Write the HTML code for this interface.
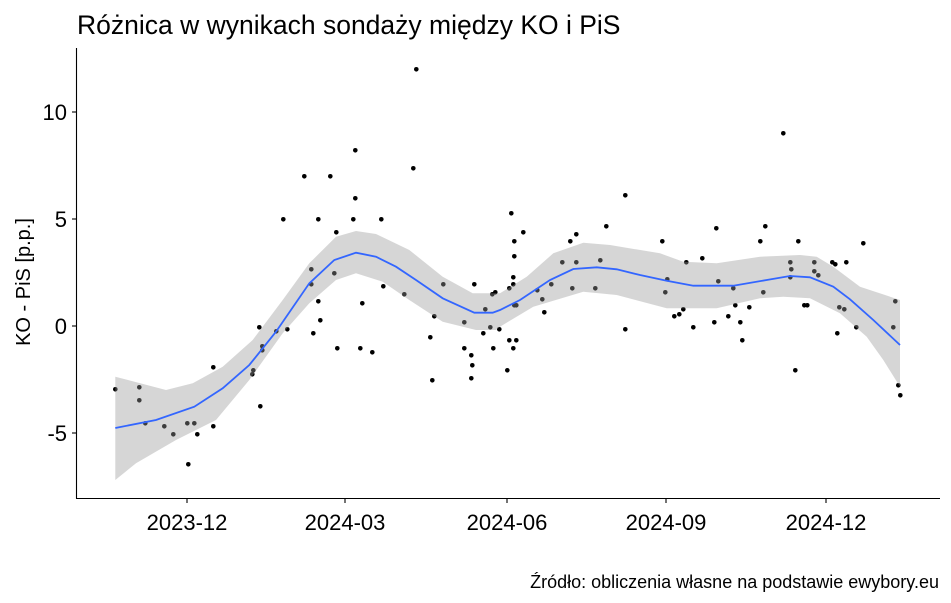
<!DOCTYPE html>
<html><head><meta charset="utf-8"><style>
body{margin:0;background:#fff}
svg{display:block;font-family:"Liberation Sans",Arial,sans-serif}
</style></head><body>
<svg width="951" height="603" viewBox="0 0 951 603" xmlns="http://www.w3.org/2000/svg">
<rect width="951" height="603" fill="#fff"/>
<text x="77" y="34" font-size="26.5" fill="#000">Różnica w wynikach sondaży między KO i PiS</text>
<g fill="#000">
<circle cx="115.3" cy="389.3" r="2.3"/><circle cx="139.3" cy="387.3" r="2.3"/><circle cx="139.3" cy="400.3" r="2.3"/><circle cx="145.3" cy="423.3" r="2.3"/><circle cx="164.3" cy="426.3" r="2.3"/><circle cx="173.3" cy="434.3" r="2.3"/><circle cx="187.3" cy="423.3" r="2.3"/><circle cx="194.3" cy="423.3" r="2.3"/><circle cx="188.3" cy="464.3" r="2.3"/><circle cx="197.3" cy="434.3" r="2.3"/><circle cx="213.3" cy="367.3" r="2.3"/><circle cx="213.3" cy="426.3" r="2.3"/><circle cx="252.3" cy="374.3" r="2.3"/><circle cx="253.3" cy="370.3" r="2.3"/><circle cx="260.3" cy="406.3" r="2.3"/><circle cx="259.3" cy="327.3" r="2.3"/><circle cx="262.3" cy="346.3" r="2.3"/><circle cx="262.3" cy="350.3" r="2.3"/><circle cx="276.3" cy="331.3" r="2.3"/><circle cx="287.3" cy="329.3" r="2.3"/><circle cx="283.3" cy="219.3" r="2.3"/><circle cx="304.3" cy="176.3" r="2.3"/><circle cx="311.3" cy="269.3" r="2.3"/><circle cx="311.3" cy="284.3" r="2.3"/><circle cx="313.3" cy="333.3" r="2.3"/><circle cx="318.3" cy="301.3" r="2.3"/><circle cx="320.3" cy="320.3" r="2.3"/><circle cx="318.3" cy="219.3" r="2.3"/><circle cx="330.3" cy="176.3" r="2.3"/><circle cx="334.3" cy="273.3" r="2.3"/><circle cx="336.3" cy="232.3" r="2.3"/><circle cx="337.3" cy="348.3" r="2.3"/><circle cx="353.3" cy="219.3" r="2.3"/><circle cx="355.3" cy="198.3" r="2.3"/><circle cx="355.3" cy="150.3" r="2.3"/><circle cx="360.3" cy="348.3" r="2.3"/><circle cx="362.3" cy="303.3" r="2.3"/><circle cx="372.3" cy="352.3" r="2.3"/><circle cx="381.3" cy="219.3" r="2.3"/><circle cx="383.3" cy="286.3" r="2.3"/><circle cx="404.3" cy="294.3" r="2.3"/><circle cx="413.3" cy="168.3" r="2.3"/><circle cx="416.3" cy="69.3" r="2.3"/><circle cx="430.3" cy="337.3" r="2.3"/><circle cx="432.3" cy="380.3" r="2.3"/><circle cx="434.3" cy="316.3" r="2.3"/><circle cx="443.3" cy="284.3" r="2.3"/><circle cx="464.3" cy="322.3" r="2.3"/><circle cx="464.3" cy="348.3" r="2.3"/><circle cx="471.3" cy="355.3" r="2.3"/><circle cx="472.3" cy="365.3" r="2.3"/><circle cx="471.3" cy="378.3" r="2.3"/><circle cx="474.3" cy="284.3" r="2.3"/><circle cx="483.3" cy="333.3" r="2.3"/><circle cx="485.3" cy="309.3" r="2.3"/><circle cx="490.3" cy="327.3" r="2.3"/><circle cx="492.3" cy="294.3" r="2.3"/><circle cx="495.3" cy="292.3" r="2.3"/><circle cx="493.3" cy="348.3" r="2.3"/><circle cx="499.3" cy="329.3" r="2.3"/><circle cx="507.3" cy="370.3" r="2.3"/><circle cx="509.3" cy="340.3" r="2.3"/><circle cx="509.3" cy="288.3" r="2.3"/><circle cx="511.3" cy="213.3" r="2.3"/>
<circle cx="513.3" cy="348.3" r="2.3"/><circle cx="514.3" cy="241.3" r="2.3"/><circle cx="514.3" cy="256.3" r="2.3"/><circle cx="513.3" cy="277.3" r="2.3"/><circle cx="513.3" cy="284.3" r="2.3"/><circle cx="514.3" cy="305.3" r="2.3"/><circle cx="516.3" cy="305.3" r="2.3"/><circle cx="516.3" cy="340.3" r="2.3"/><circle cx="523.3" cy="232.3" r="2.3"/><circle cx="537.3" cy="290.3" r="2.3"/><circle cx="542.3" cy="299.3" r="2.3"/><circle cx="544.3" cy="312.3" r="2.3"/><circle cx="551.3" cy="284.3" r="2.3"/><circle cx="562.3" cy="262.3" r="2.3"/><circle cx="570.3" cy="241.3" r="2.3"/><circle cx="576.3" cy="234.3" r="2.3"/><circle cx="576.3" cy="262.3" r="2.3"/><circle cx="572.3" cy="288.3" r="2.3"/><circle cx="595.3" cy="288.3" r="2.3"/><circle cx="600.3" cy="260.3" r="2.3"/><circle cx="606.3" cy="226.3" r="2.3"/><circle cx="625.3" cy="195.3" r="2.3"/><circle cx="625.3" cy="329.3" r="2.3"/><circle cx="662.3" cy="241.3" r="2.3"/><circle cx="667.3" cy="279.3" r="2.3"/><circle cx="665.3" cy="292.3" r="2.3"/><circle cx="674.3" cy="316.3" r="2.3"/><circle cx="679.3" cy="314.3" r="2.3"/><circle cx="683.3" cy="309.3" r="2.3"/><circle cx="686.3" cy="262.3" r="2.3"/><circle cx="693.3" cy="327.3" r="2.3"/><circle cx="702.3" cy="258.3" r="2.3"/><circle cx="714.3" cy="322.3" r="2.3"/><circle cx="716.3" cy="228.3" r="2.3"/><circle cx="718.3" cy="281.3" r="2.3"/><circle cx="728.3" cy="316.3" r="2.3"/><circle cx="733.3" cy="288.3" r="2.3"/><circle cx="735.3" cy="305.3" r="2.3"/><circle cx="740.3" cy="322.3" r="2.3"/><circle cx="742.3" cy="340.3" r="2.3"/><circle cx="749.3" cy="307.3" r="2.3"/><circle cx="760.3" cy="241.3" r="2.3"/><circle cx="765.3" cy="226.3" r="2.3"/><circle cx="763.3" cy="292.3" r="2.3"/><circle cx="783.3" cy="133.3" r="2.3"/><circle cx="790.3" cy="262.3" r="2.3"/><circle cx="791.3" cy="269.3" r="2.3"/><circle cx="790.3" cy="277.3" r="2.3"/><circle cx="795.3" cy="370.3" r="2.3"/><circle cx="798.3" cy="241.3" r="2.3"/><circle cx="804.3" cy="305.3" r="2.3"/><circle cx="807.3" cy="305.3" r="2.3"/><circle cx="814.3" cy="262.3" r="2.3"/><circle cx="814.3" cy="271.3" r="2.3"/><circle cx="818.3" cy="275.3" r="2.3"/><circle cx="832.3" cy="262.3" r="2.3"/><circle cx="835.3" cy="264.3" r="2.3"/><circle cx="837.3" cy="333.3" r="2.3"/><circle cx="839.3" cy="307.3" r="2.3"/><circle cx="844.3" cy="309.3" r="2.3"/><circle cx="846.3" cy="262.3" r="2.3"/><circle cx="856.3" cy="327.3" r="2.3"/><circle cx="863.3" cy="243.3" r="2.3"/><circle cx="895.3" cy="301.3" r="2.3"/><circle cx="893.3" cy="327.3" r="2.3"/><circle cx="898.3" cy="385.3" r="2.3"/><circle cx="900.3" cy="395.3" r="2.3"/>
</g>
<polygon fill="rgb(153,153,153)" fill-opacity="0.4" points="115.3,376.7 166,390 192.7,383.3 222.7,366.7 252.7,340 282.7,300 309.3,263.3 336,236.7 356,231 376,234 409.3,250 442.7,276.7 472.7,293.3 492.7,293.3 500,293.3 526.7,276.7 553.3,253.3 583.3,242.7 610,245 660,253.3 683.3,261.7 716.7,263.3 760,256.7 800,255 816.7,256.7 833.3,266.7 860,286.7 900,300 900,386.7 883.3,360 866.7,336.7 840,313.3 810,298.3 783.3,296.7 760,298.3 716.7,308.3 666.7,308.3 616.7,295 583.3,291.7 533.3,306.7 500,326.7 496,330 476,330 442.7,321.7 409.3,300 382.7,281.7 356,273.3 336,280 309.3,303.3 282.7,333.3 249.3,380 216,420 176,440 136,463.3 115.3,480"/>
<polyline fill="none" stroke="#3366FF" stroke-width="1.8" points="115.3,428 156,420 194.3,406.7 222.7,388.3 249.3,365 276,331.7 309.3,283.3 334.3,260 356,252.7 376,256.7 396,266.7 416,280 442.7,298.3 474.3,312.7 492.7,312.7 500,310 520,300 550,280 573.3,269 596.7,267.3 616.7,269.3 640,275 666.7,280.7 693.3,285.7 733.3,285.7 766.7,280 790,276 810,277.3 833.3,286.7 850,299.3 873.3,320 900,345"/>
<g stroke="#000" stroke-width="1.1">
<line x1="76.5" y1="48" x2="76.5" y2="498.5"/>
<line x1="76" y1="498.5" x2="940" y2="498.5"/>
<line x1="72" y1="112" x2="76" y2="112"/><line x1="72" y1="219" x2="76" y2="219"/><line x1="72" y1="326" x2="76" y2="326"/><line x1="72" y1="433" x2="76" y2="433"/>
<line x1="187" y1="498" x2="187" y2="503"/><line x1="345" y1="498" x2="345" y2="503"/><line x1="507" y1="498" x2="507" y2="503"/><line x1="666" y1="498" x2="666" y2="503"/><line x1="826" y1="498" x2="826" y2="503"/>
</g>
<g font-size="22" fill="#000" text-anchor="end">
<text x="67" y="120">10</text><text x="67" y="227">5</text><text x="67" y="334">0</text><text x="67" y="441">-5</text>
</g>
<g font-size="22" fill="#000" text-anchor="middle">
<text x="187" y="530">2023-12</text><text x="345" y="530">2024-03</text><text x="507" y="530">2024-06</text><text x="666" y="530">2024-09</text><text x="826" y="530">2024-12</text>
</g>
<text transform="translate(30,282) rotate(-90)" font-size="20" text-anchor="middle" fill="#000">KO - PiS [p.p.]</text>
<text x="939" y="588" font-size="18" text-anchor="end" fill="#000">Źródło: obliczenia własne na podstawie ewybory.eu</text>
</svg>
</body></html>
